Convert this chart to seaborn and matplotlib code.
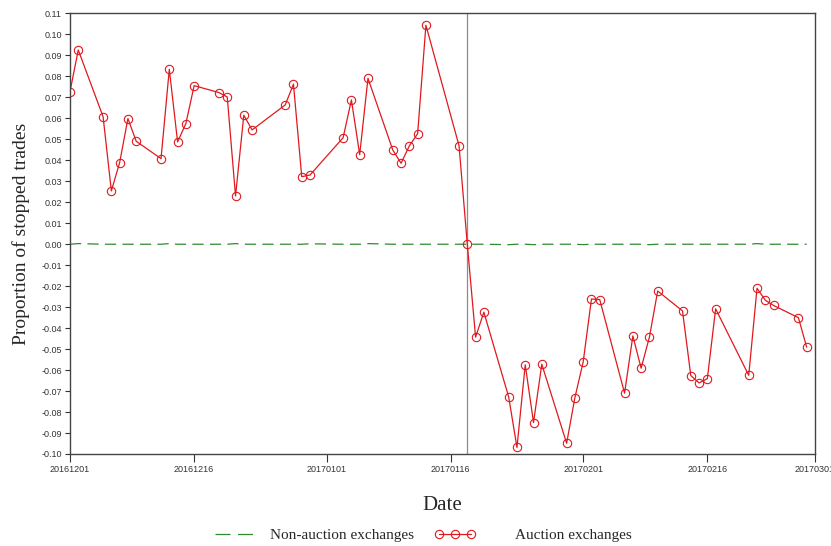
import seaborn as sns
import numpy as np
import pandas as pd
import matplotlib.pyplot as plt
import matplotlib.dates as mdates
from matplotlib.lines import Line2D
from matplotlib.ticker import MultipleLocator

trade_dates = ["2016-12-01", "2016-12-02", "2016-12-05", "2016-12-06", "2016-12-07", "2016-12-08",
               "2016-12-09", "2016-12-12", "2016-12-13", "2016-12-14", "2016-12-15", "2016-12-16",
               "2016-12-19", "2016-12-20", "2016-12-21", "2016-12-22", "2016-12-23", "2016-12-27",
               "2016-12-28", "2016-12-29", "2016-12-30", "2017-01-03", "2017-01-04", "2017-01-05",
               "2017-01-06", "2017-01-09", "2017-01-10", "2017-01-11", "2017-01-12", "2017-01-13",
               "2017-01-17", "2017-01-18", "2017-01-19", "2017-01-20", "2017-01-23", "2017-01-24",
               "2017-01-25", "2017-01-26", "2017-01-27", "2017-01-30", "2017-01-31", "2017-02-01",
               "2017-02-02", "2017-02-03", "2017-02-06", "2017-02-07", "2017-02-08", "2017-02-09",
               "2017-02-10", "2017-02-13", "2017-02-14", "2017-02-15", "2017-02-16", "2017-02-17",
               "2017-02-21", "2017-02-22", "2017-02-23", "2017-02-24", "2017-02-27", "2017-02-28"]

auction = [0.0727, 0.0926, 0.0608, 0.0254, 0.0389, 0.0599,
           0.0491, 0.0408, 0.0834, 0.0488, 0.0575, 0.0756,
           0.0723, 0.0702, 0.0230, 0.0615, 0.0545, 0.0664,
           0.0763, 0.0322, 0.0330, 0.0508, 0.0688, 0.0427,
           0.0791, 0.0449, 0.0386, 0.0469, 0.0527, 0.1044,
           0.0470, 0.0000, -0.0443, -0.0324, -0.0728, -0.0969,
           -0.0575, -0.0850, -0.0572, -0.0949, -0.0731, -0.0561,
           -0.0261, -0.0264, -0.0710, -0.0437, -0.0591, -0.0443,
           -0.0223, -0.0318, -0.0626, -0.0661, -0.0641, -0.0308,
           -0.0625, -0.0210, -0.0267, -0.0292, -0.0350, -0.0491]

non_auction = [0.0000, 0.0003, 0.0000, 0.0000, 0.0000, 0.0000,
               0.0000, 0.0000, 0.0003, 0.0000, 0.0000, 0.0000,
               0.0000, 0.0000, 0.0003, 0.0000, 0.0000, 0.0000,
               0.0000, 0.0000, 0.0002, 0.0000, 0.0000, 0.0000,
               0.0003, 0.0000, 0.0000, 0.0000, 0.0000, 0.0000,
               0.0000, 0.0000, 0.0000, 0.0000, -0.0002, 0.0000,
               0.0000, -0.0002, 0.0000, 0.0000, 0.0000, -0.0002,
               0.0000, 0.0000, 0.0000, 0.0000, 0.0000, -0.0002,
               0.0000, 0.0000, 0.0000, 0.0000, 0.0000, 0.0000,
               0.0000, 0.0003, 0.0000, 0.0000, 0.0000, 0.0000]

tick_dates = ["2016-12-01", "2016-12-16", "2017-01-01", "2017-01-16",
              "2017-02-01", "2017-02-16", "2017-03-01"]
event_date = "2017-01-18"

GREEN = "#2e8b2e"
RED = "#e0191e"
DASH = (0, (9, 5))

df = pd.DataFrame({"date": pd.to_datetime(trade_dates),
                   "auction": auction,
                   "non_auction": non_auction})

sns.set_style("white")
plt.rcParams['font.family'] = ['Liberation Sans', 'DejaVu Sans']

fig, ax = plt.subplots(figsize=(8.31, 5.46), dpi=100)
fig.subplots_adjust(left=0.0842, right=0.9807, top=0.9753, bottom=0.1685)

sns.lineplot(data=df, x="date", y="non_auction", ax=ax, color=GREEN,
             lw=0.9, linestyle=DASH)
sns.lineplot(data=df, x="date", y="auction", ax=ax, color=RED, lw=0.9,
             marker="o", markersize=6, markerfacecolor="none",
             markeredgecolor=RED, markeredgewidth=0.8)

ax.axvline(pd.Timestamp(event_date), color="#8c8c8c", lw=0.9, zorder=0)

ax.set_xlim(pd.Timestamp("2016-12-01"), pd.Timestamp("2017-03-01"))
ax.set_ylim(-0.10, 0.11)
ax.set_xticks(pd.to_datetime(tick_dates))
ax.xaxis.set_major_formatter(mdates.DateFormatter("%Y%m%d"))
ax.yaxis.set_major_locator(MultipleLocator(0.01))
ax.yaxis.set_major_formatter(plt.FuncFormatter(lambda v, p: ("%.2f" % v).replace("-0.00", "0.00")))

ax.tick_params(axis="both", which="major", direction="out", width=0.8,
               colors="#333333", labelsize=6.5, bottom=True, left=True)
ax.tick_params(axis="x", length=5.5, pad=2.5)
ax.tick_params(axis="y", length=3.6, pad=2.2)
for sp in ax.spines.values():
    sp.set_color("#444444")
    sp.set_linewidth(1.0)

ax.set_xlabel("Date", family="Liberation Serif", fontsize=15, labelpad=16)
ax.set_ylabel("Proportion of stopped trades", family="Liberation Serif", fontsize=14, labelpad=8)

leg_font = {"family": "Liberation Serif", "size": 11}
h_green = Line2D([], [], color=GREEN, lw=0.9, linestyle=(0, (12, 6)))
h_red = Line2D([], [], color=RED, lw=0.9, marker="o", markersize=6,
               markerfacecolor="none", markeredgewidth=0.8)
leg1 = fig.legend([h_green], ["Non-auction exchanges"], loc="center left",
                  bbox_to_anchor=(215 / 831, 0.02), frameon=False, borderpad=0,
                  borderaxespad=0, handlelength=2.5, handletextpad=1.1, prop=leg_font)
leg2 = fig.legend([h_red], ["Auction exchanges"], loc="center left",
                  bbox_to_anchor=(434 / 831, 0.02), frameon=False, borderpad=0,
                  borderaxespad=0, numpoints=3, handlelength=2.7, handletextpad=2.6,
                  prop=leg_font)

plt.savefig("out.png", dpi=100)
